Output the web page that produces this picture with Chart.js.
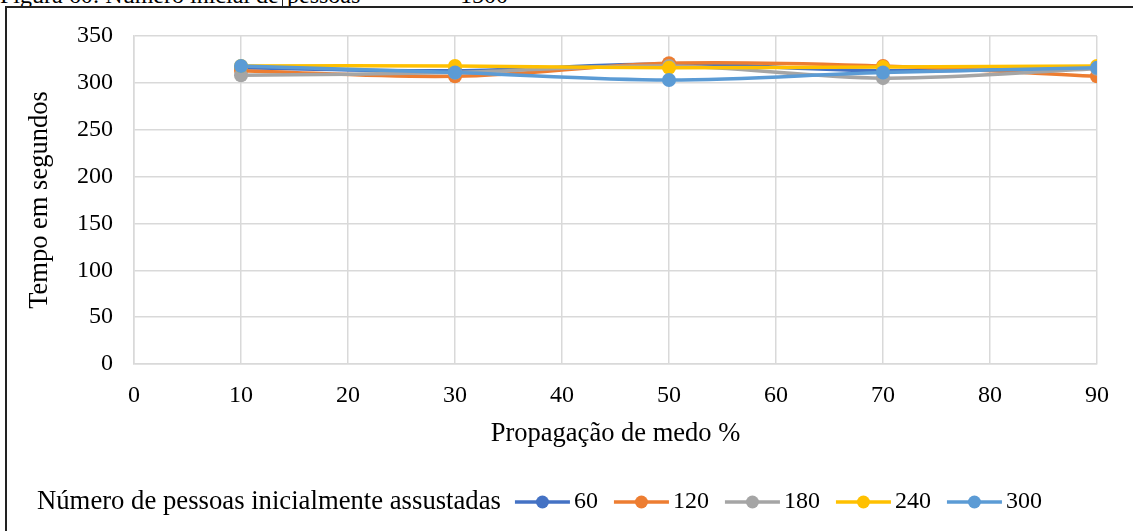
<!DOCTYPE html>
<html>
<head>
<meta charset="utf-8">
<script src="https://cdn.jsdelivr.net/npm/chart.js@4/dist/chart.umd.min.js"></script>
<style>
  html, body { margin: 0; padding: 0; background: #fff; }
  #wrap { position: relative; width: 1133px; height: 531px; overflow: hidden; }
  .cap { position: absolute; top: -18px; font: 24px "Liberation Serif", serif; color: #000; white-space: nowrap; }
  #frame { position: absolute; left: 5px; top: 6px; width: 1140px; height: 540px; border-left: 2px solid #222; border-top: 2px solid #222; }
  #tick { position: absolute; left: 282px; top: 0; width: 1px; height: 7px; background: #222; }
  canvas { position: absolute; left: 0; top: 0; }
</style>
</head>
<body>
<div id="wrap">
  <div class="cap" style="left:0">Figura 60: Número inicial de</div>
  <div class="cap" style="left:287px">pessoas</div>
  <div class="cap" style="left:404px">=</div>
  <div class="cap" style="left:460px">1500</div>
  <div id="tick"></div>
  <div id="frame"></div>
  <canvas id="myChart" width="1133" height="531"></canvas>
</div>
<script>
const propagacao = [10, 30, 50, 70, 90];
const seriesNames = ['60', '120', '180', '240', '300'];
const colors = ['#4472C4', '#ED7D31', '#A5A5A5', '#FFC000', '#5B9BD5'];
const s60 = [316, 313, 320, 313, 316];
const s120 = [313, 307, 321, 318, 307];
const s180 = [308, 311, 318, 305, 315];
const s240 = [318, 318, 316, 317, 318];
const s300 = [318, 311, 303, 311, 316];
const allSeries = [s60, s120, s180, s240, s300];
const xTicks = [0, 10, 20, 30, 40, 50, 60, 70, 80, 90];
const yTicks = [0, 50, 100, 150, 200, 250, 300, 350];

const serif = '"Liberation Serif", "Times New Roman", serif';

const datasets = allSeries.map((vals, i) => ({
  label: seriesNames[i],
  data: vals.map((v, j) => ({ x: propagacao[j], y: v })),
  borderColor: colors[i],
  backgroundColor: colors[i],
  borderWidth: 3.5,
  pointRadius: 7,
  pointBorderWidth: 0,
  tension: 0.35,
  order: allSeries.length - i
}));

// legend drawn below the x axis title, Excel-style
const legendPlugin = {
  id: 'excelLegend',
  afterDraw(chart) {
    const ctx = chart.ctx;
    const y = 502;
    ctx.save();
    ctx.fillStyle = '#000';
    ctx.textBaseline = 'middle';
    let x = 37;
    const title = 'Número de pessoas inicialmente assustadas';
    ctx.font = '26.7px ' + serif;
    ctx.fillText(title, x, y);
    x += ctx.measureText(title).width + 14;
    ctx.font = '24px ' + serif;
    chart.data.datasets.forEach(ds => {
      ctx.strokeStyle = ds.borderColor;
      ctx.lineWidth = 3.5;
      ctx.beginPath();
      ctx.moveTo(x, y);
      ctx.lineTo(x + 55, y);
      ctx.stroke();
      ctx.fillStyle = ds.borderColor;
      ctx.beginPath();
      ctx.arc(x + 27.5, y, 6.5, 0, Math.PI * 2);
      ctx.fill();
      ctx.fillStyle = '#000';
      ctx.fillText(ds.label, x + 59, y);
      x += 59 + ctx.measureText(ds.label).width + 16;
    });
    ctx.restore();
  }
};

var ctx = document.getElementById('myChart').getContext('2d');
var chart = new Chart(ctx, {
  type: 'line',
  data: { datasets: datasets },
  plugins: [legendPlugin],
  options: {
    responsive: false,
    animation: false,
    layout: { padding: { left: 10, right: 36, top: 36, bottom: 77 } },
    plugins: {
      legend: { display: false },
      tooltip: { enabled: false }
    },
    scales: {
      x: {
        type: 'linear',
        min: 0,
        max: 90,
        afterBuildTicks: (axis) => { axis.ticks = xTicks.map(v => ({ value: v })); },
        afterFit: (axis) => { axis.height = 90; },
        grid: { color: '#D9D9D9', lineWidth: 1.5, drawTicks: false },
        border: { color: '#D9D9D9', width: 1.5 },
        ticks: { color: '#000', font: { family: serif, size: 24 }, padding: 17 },
        title: { display: true, text: 'Propagação de medo %', color: '#000', font: { family: serif, size: 26.5 }, padding: { top: 0, bottom: 4 } }
      },
      y: {
        min: 0,
        max: 350,
        afterBuildTicks: (axis) => { axis.ticks = yTicks.map(v => ({ value: v })); },
        afterFit: (axis) => { axis.width = 124; },
        grid: { color: '#D9D9D9', lineWidth: 1.5, drawTicks: false },
        border: { color: '#D9D9D9', width: 1.5 },
        ticks: { color: '#000', font: { family: serif, size: 24 }, padding: 21 },
        title: { display: true, text: 'Tempo em segundos', color: '#000', font: { family: serif, size: 26.5 }, padding: { top: 14, bottom: 0 } }
      }
    }
  }
});
</script>
</body>
</html>
